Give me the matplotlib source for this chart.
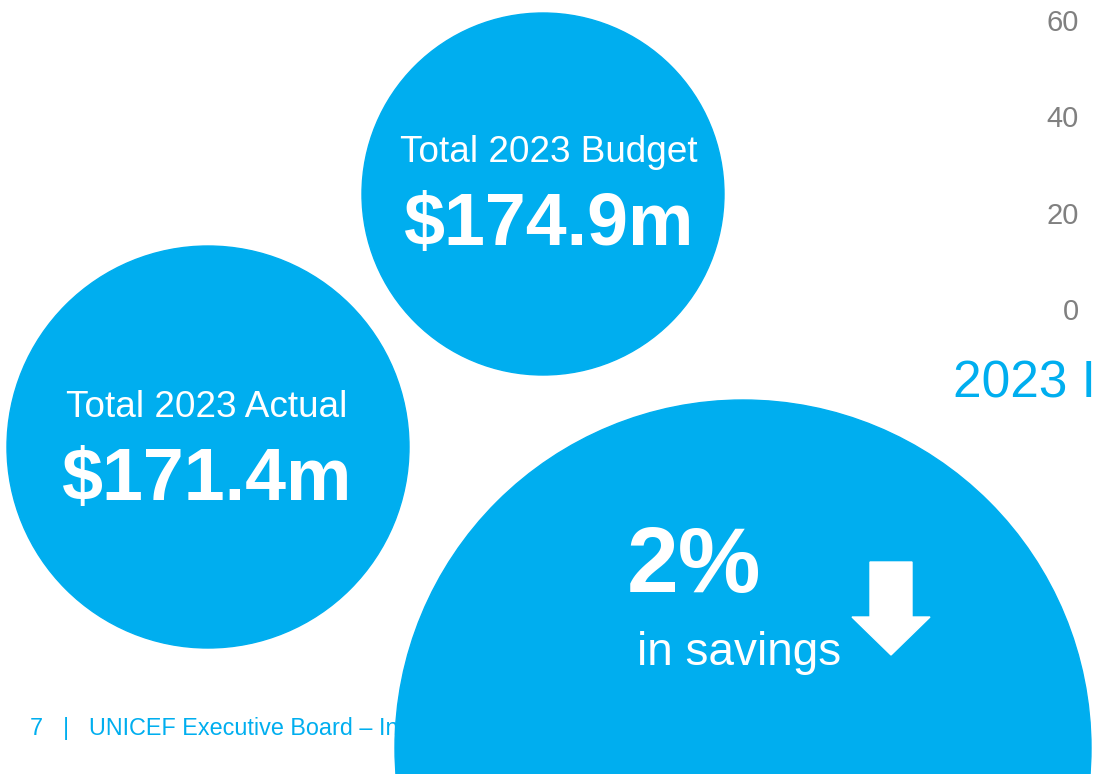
import matplotlib
matplotlib.use("Agg")
import matplotlib.pyplot as plt
from matplotlib.patches import Circle, FancyArrow

# ---- data ----
budget_total = 174.9      # $m
actual_total = 171.4      # $m
savings_pct = 2           # %
axis_ticks = [0, 20, 40, 60]
budget_label = "Total 2023 Budget"
actual_label = "Total 2023 Actual"
savings_label = "in savings"
partial_title = "2023 I"
footer_page = "7"
footer_text = "UNICEF Executive Board – Informal briefing"

BLUE = "#00AEEF"
GREY = "#808080"
FONT = ["Liberation Sans", "DejaVu Sans"]
plt.rcParams["font.family"] = FONT

W, H = 1094, 774
fig = plt.figure(figsize=(W / 100, H / 100), dpi=100)
ax = fig.add_axes([0, 0, 1, 1])
ax.set_xlim(0, W)
ax.set_ylim(H, 0)
ax.set_aspect("equal")
ax.axis("off")

# partially visible chart axis on the right
cax = fig.add_axes([1086 / W, (H - 309) / H, 0.3, (309 - 20) / H])
cax.set_ylim(min(axis_ticks), max(axis_ticks))
cax.set_yticks(axis_ticks)
cax.set_yticklabels([str(t) for t in axis_ticks])
cax.tick_params(axis="y", length=0, pad=5, labelsize=21, labelcolor=GREY)
cax.set_xticks([])
for s in cax.spines.values():
    s.set_visible(False)
cax.patch.set_alpha(0)

ax.text(953, 397, partial_title, color=BLUE, fontsize=37, ha="left", va="baseline")

# footer (under the big circle)
ax.text(30, 735, footer_page, color=BLUE, fontsize=16.8, ha="left", va="baseline", zorder=1)
ax.text(63, 735, "|", color=BLUE, fontsize=16.8, ha="left", va="baseline", zorder=1)
ax.text(89, 735, footer_text, color=BLUE, fontsize=16.8, ha="left", va="baseline", zorder=1)

# circles
ax.add_patch(Circle((543, 194), 181, color=BLUE, zorder=2))
ax.add_patch(Circle((208, 447), 201, color=BLUE, zorder=2))
ax.add_patch(Circle((743, 748), 348, color=BLUE, zorder=2))

# budget circle text
ax.text(549, 162, budget_label, color="white", fontsize=26.6, ha="center", va="baseline", zorder=3)
ax.text(549, 245, f"${budget_total:.1f}m", color="white", fontsize=53, fontweight="bold",
        ha="center", va="baseline", zorder=3)

# actual circle text
ax.text(207, 417, actual_label, color="white", fontsize=26.6, ha="center", va="baseline", zorder=3)
ax.text(207, 500, f"${actual_total:.1f}m", color="white", fontsize=53, fontweight="bold",
        ha="center", va="baseline", zorder=3)

# savings
ax.text(627, 592, f"{savings_pct}%", color="white", fontsize=67, fontweight="bold",
        ha="left", va="baseline", zorder=3)
ax.text(637, 665, savings_label, color="white", fontsize=33, ha="left", va="baseline", zorder=3)
ax.add_patch(FancyArrow(891, 562, 0, 93, width=42, head_width=78, head_length=38,
                        length_includes_head=True, color="white", zorder=3))

fig.savefig("out.png", dpi=100)
